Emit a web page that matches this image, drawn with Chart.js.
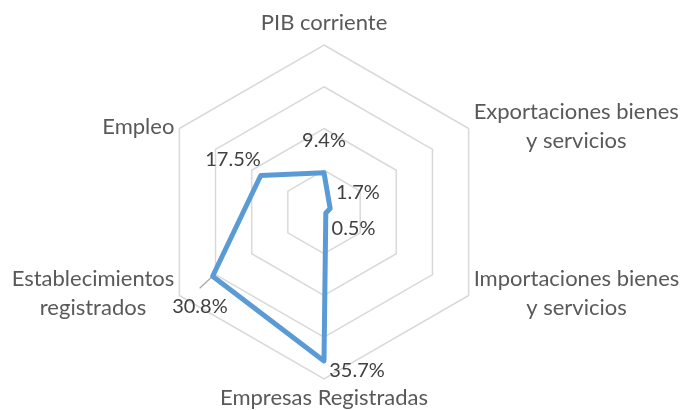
<!DOCTYPE html>
<html>
<head>
<meta charset="utf-8">
<title>Radar</title>
<script src="https://cdn.jsdelivr.net/npm/chart.js@4/dist/chart.umd.min.js"></script>
<style>
  html, body { margin: 0; padding: 0; background: #fff; }
  #wrap { width: 684px; height: 410px; }
</style>
</head>
<body>
<div id="wrap"><canvas id="radar" width="684" height="410"></canvas></div>
<script>
// data
var categories = [
	['PIB corriente'],
	['Exportaciones bienes', 'y servicios'],
	['Importaciones bienes', 'y servicios'],
	['Empresas Registradas'],
	['Establecimientos', 'registrados'],
	['Empleo']
];
var values = [9.4, 1.7, 0.5, 35.7, 30.8, 17.5];
var valueLabels = ['9.4%', '1.7%', '0.5%', '35.7%', '30.8%', '17.5%'];
var axisMax = 40;
var axisStep = 10;

// a couple of labels were dragged by hand in the original
var labelNudge = { 3: [33, -23], 4: [15, 14] };

var axisLabelPlugin = {
	id: 'axisLabels',
	afterDraw: function (chart) {
		var scale = chart.scales.r;
		var ctx = chart.ctx;
		ctx.save();
		ctx.font = '22px Lato';
		ctx.fillStyle = '#595959';
		for (var i = 0; i < categories.length; i++) {
			var lines = categories[i];
			var p = scale.getPointPosition(i, scale.drawingArea);
			var a = scale.getIndexAngle(i);
			var s = Math.sin(a), c = Math.cos(a);
			var lh = 28.5;
			ctx.textAlign = 'center';
			if (Math.abs(s) < 0.1) {
				ctx.textBaseline = 'alphabetic';
				for (var k = 0; k < lines.length; k++) {
					var y = c > 0 ? p.y - 15 - (lines.length - 1 - k) * lh : p.y + 26 + k * lh;
					ctx.fillText(lines[k], p.x, y);
				}
			} else {
				var w = 0;
				lines.forEach(function (t) { w = Math.max(w, ctx.measureText(t).width); });
				var cx = s > 0 ? p.x + 5 + w / 2 : p.x - 5 - w / 2;
				ctx.textBaseline = 'middle';
				var y0 = p.y - 2 - (lines.length - 1) * lh / 2;
				for (var k = 0; k < lines.length; k++) {
					ctx.fillText(lines[k], cx, y0 + k * lh);
				}
			}
		}
		ctx.restore();
	}
};

var valueLabelPlugin = {
	id: 'valueLabels',
	beforeDatasetsDraw: function (chart) {
		// leader line of the moved label
		var ctx = chart.ctx;
		var pt = chart.getDatasetMeta(0).data[4];
		ctx.save();
		ctx.strokeStyle = '#a6a6a6';
		ctx.lineWidth = 1.2;
		ctx.beginPath();
		ctx.moveTo(pt.x, pt.y);
		ctx.lineTo(pt.x - 13, pt.y + 12);
		ctx.stroke();
		ctx.restore();
	},
	afterDatasetsDraw: function (chart) {
		var scale = chart.scales.r;
		var ctx = chart.ctx;
		ctx.save();
		ctx.font = '20px Lato';
		ctx.fillStyle = '#404040';
		ctx.textAlign = 'center';
		ctx.textBaseline = 'middle';
		for (var i = 0; i < values.length; i++) {
			var d = scale.getDistanceFromCenterForValue(values[i]) + 32;
			var p = scale.getPointPosition(i, d);
			var n = labelNudge[i] || [0, 0];
			ctx.fillText(valueLabels[i], p.x + n[0], p.y + n[1]);
		}
		ctx.restore();
	}
};

var ctx = document.getElementById('radar').getContext('2d');
var radarChart = new Chart(ctx, {
	type: 'radar',
	data: {
		labels: categories,
		datasets: [{
			label: 'Serie',
			data: values,
			borderColor: '#5B9BD5',
			borderWidth: 5,
			borderJoinStyle: 'round',
			borderCapStyle: 'round',
			fill: false,
			tension: 0,
			pointRadius: 0,
			pointHoverRadius: 0
		}]
	},
	options: {
		responsive: false,
		animation: false,
		devicePixelRatio: 1,
		layout: {
			padding: { top: 45, bottom: 31, left: 0, right: 36 }
		},
		scales: {
			r: {
				min: 0,
				max: axisMax,
				ticks: { stepSize: axisStep, display: false },
				grid: { color: '#d9d9d9', lineWidth: 1.5 },
				angleLines: { display: false },
				pointLabels: { display: false }
			}
		},
		plugins: {
			legend: { display: false },
			tooltip: { enabled: false }
		}
	},
	plugins: [axisLabelPlugin, valueLabelPlugin]
});
</script>
</body>
</html>
